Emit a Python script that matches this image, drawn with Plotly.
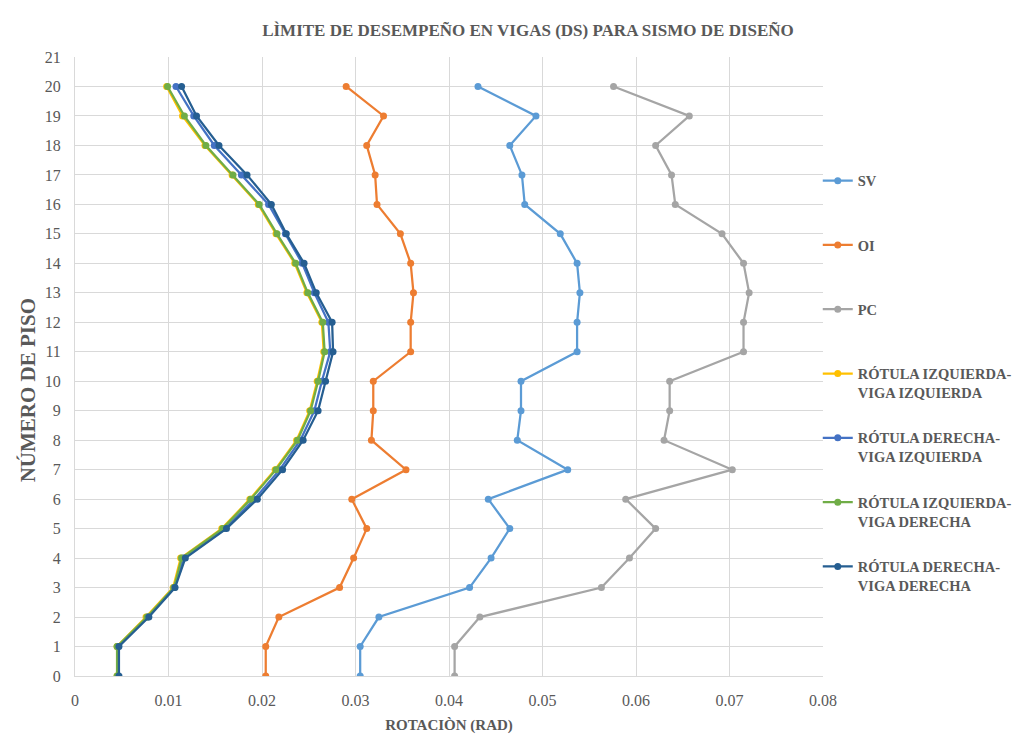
import plotly.graph_objects as go

floors = list(range(0, 21))

sv = [0.0305, 0.0305, 0.0325, 0.0422, 0.0445, 0.0465, 0.0442, 0.0527, 0.0473, 0.0477, 0.0477,
      0.0537, 0.0537, 0.0540, 0.0537, 0.0519, 0.0481, 0.0478, 0.0465, 0.0493, 0.0431]
oi = [0.0204, 0.0204, 0.0218, 0.0283, 0.0298, 0.0312, 0.0296, 0.0354, 0.0317, 0.0319, 0.0319,
      0.0359, 0.0359, 0.0362, 0.0359, 0.0348, 0.0323, 0.0321, 0.0312, 0.0330, 0.0290]
pc = [0.0406, 0.0406, 0.0433, 0.0563, 0.0593, 0.0621, 0.0589, 0.0703, 0.0630, 0.0636, 0.0636,
      0.0715, 0.0715, 0.0721, 0.0715, 0.0692, 0.0642, 0.0638, 0.0621, 0.0657, 0.0576]
riz_viz = [0.0045, 0.0045, 0.0076, 0.0105, 0.0113, 0.0157, 0.0187, 0.0214, 0.0237, 0.0251, 0.0259,
           0.0266, 0.0264, 0.0248, 0.0235, 0.0215, 0.0196, 0.0168, 0.0139, 0.0115, 0.0098]
rde_viz = [0.0046, 0.0046, 0.0078, 0.0106, 0.0116, 0.0160, 0.0192, 0.0219, 0.0241, 0.0256, 0.0264,
           0.0273, 0.0271, 0.0256, 0.0243, 0.0225, 0.0207, 0.0178, 0.0149, 0.0127, 0.0108]
riz_vde = [0.0045, 0.0045, 0.0077, 0.0106, 0.0114, 0.0158, 0.0188, 0.0215, 0.0238, 0.0252, 0.0260,
           0.0267, 0.0265, 0.0249, 0.0236, 0.0216, 0.0197, 0.0169, 0.0140, 0.0117, 0.0099]
rde_vde = [0.0047, 0.0047, 0.0079, 0.0107, 0.0118, 0.0162, 0.0195, 0.0222, 0.0244, 0.0260, 0.0268,
           0.0276, 0.0275, 0.0258, 0.0245, 0.0226, 0.0210, 0.0184, 0.0154, 0.0130, 0.0114]

x_ticks = [0, 0.01, 0.02, 0.03, 0.04, 0.05, 0.06, 0.07, 0.08]
x_tick_labels = ["0", "0.01", "0.02", "0.03", "0.04", "0.05", "0.06", "0.07", "0.08"]

series = [
    ("SV<br> ", sv, "#5B9BD5"),
    ("OI<br> ", oi, "#ED7D31"),
    ("PC<br> ", pc, "#A5A5A5"),
    ("RÓTULA IZQUIERDA-<br>VIGA IZQUIERDA", riz_viz, "#FFC000"),
    ("RÓTULA DERECHA-<br>VIGA IZQUIERDA", rde_viz, "#4472C4"),
    ("RÓTULA IZQUIERDA-<br>VIGA DERECHA", riz_vde, "#70AD47"),
    ("RÓTULA DERECHA-<br>VIGA DERECHA", rde_vde, "#255E91"),
]

fig = go.Figure()
for i, (name, vals, color) in enumerate(series):
    fig.add_trace(go.Scatter(
        x=vals, y=floors, mode="lines+markers", name=name,
        legendgroup=f"g{i}",
        line=dict(color=color, width=2.25),
        marker=dict(color=color, size=7),
    ))

serif = "Times New Roman, Liberation Serif, Nimbus Roman, DejaVu Serif, serif"
grey = "#595959"

# figure sized to fit the 1024x747 window including the 8px page margin
W, H = 1008, 731

fig.update_layout(
    width=W, height=H,
    margin=dict(l=67, r=193, t=49, b=63, autoexpand=False),
    paper_bgcolor="white", plot_bgcolor="white",
    font=dict(family=serif, color=grey, size=14),
    title=dict(text="<b>LÌMITE DE DESEMPEÑO EN VIGAS (DS) PARA SISMO DE DISEÑO</b>",
               x=(528 - 8) / W, xanchor="center", xref="container",
               y=1 - (30 - 8) / H, yanchor="middle", yref="container",
               font=dict(family=serif, size=17, color=grey)),
    showlegend=True,
    legend=dict(x=0.993, xanchor="left", y=0.826, yanchor="top",
                font=dict(family=serif, size=14.5, color=grey, weight="bold"),
                tracegroupgap=23.6, itemwidth=30, valign="top",
                bgcolor="rgba(0,0,0,0)"),
    xaxis=dict(range=[0, 0.08], tickvals=x_ticks, ticktext=x_tick_labels,
               showgrid=True, gridcolor="#D9D9D9", gridwidth=1,
               showline=True, linecolor="#D9D9D9", zeroline=False,
               ticks="", ticklabelstandoff=10,
               title=dict(text="<b>ROTACIÒN (RAD)</b>", standoff=11,
                          font=dict(family=serif, size=15, color=grey)),
               tickfont=dict(family=serif, size=16, color=grey)),
    yaxis=dict(range=[0, 21], dtick=1,
               showgrid=True, gridcolor="#D9D9D9", gridwidth=1,
               showline=True, linecolor="#D9D9D9", zeroline=False,
               ticks="", ticklabelstandoff=10,
               title=dict(text="<b>NÚMERO DE PISO" + "\u00a0" * 9 + "</b>", standoff=3,
                          font=dict(family=serif, size=21, color=grey)),
               tickfont=dict(family=serif, size=16, color=grey)),
)

fig.write_html("out.html")
